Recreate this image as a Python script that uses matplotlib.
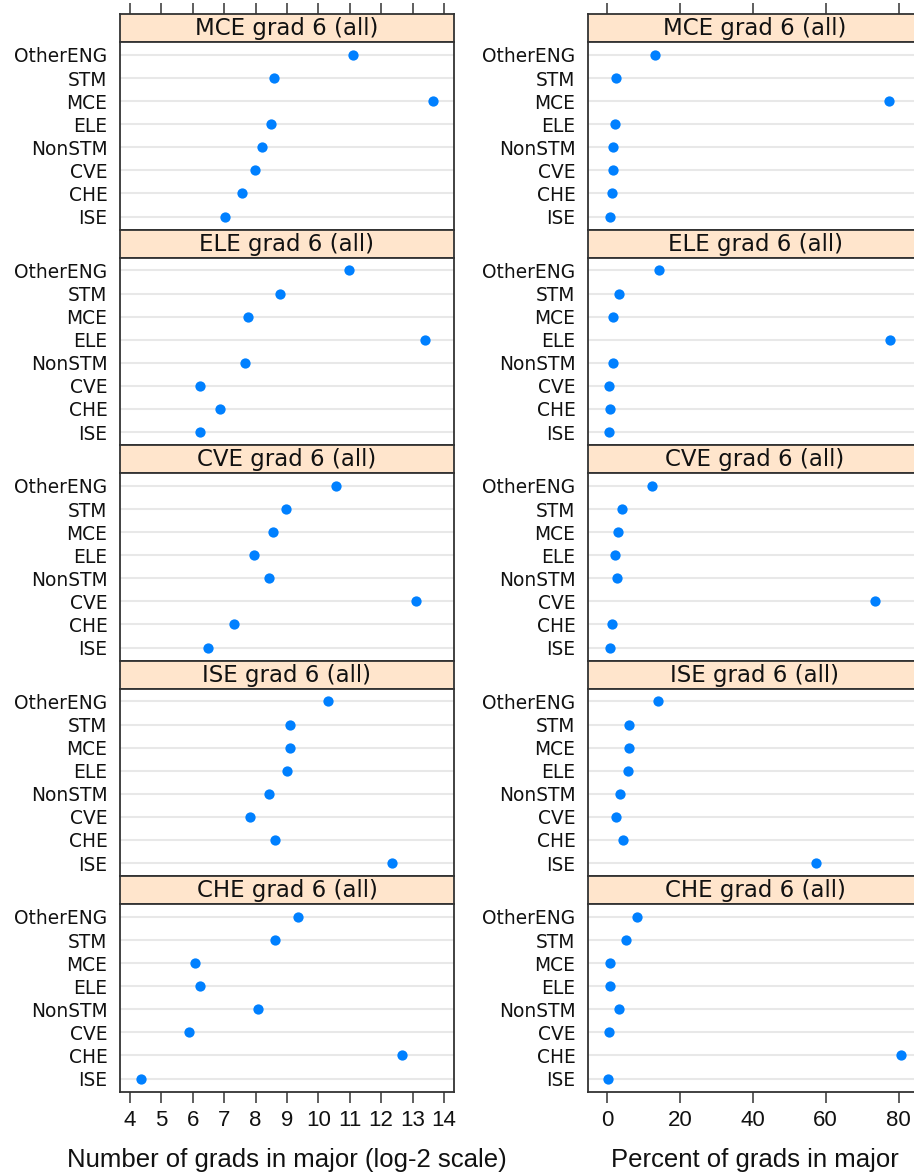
"""
Lattice-style dot plots: grads per major, by starting major.
Left column = log-2 counts, right column = percent of grads.
"""

import matplotlib
matplotlib.use("Agg")
import matplotlib.pyplot as plt

# ---------------------------------------------------------------
# Data (rows listed top -> bottom as drawn in each panel)
# ---------------------------------------------------------------
categories = ["OtherENG", "STM", "MCE", "ELE", "NonSTM", "CVE", "CHE", "ISE"]
panel_titles = ["MCE grad 6 (all)", "ELE grad 6 (all)", "CVE grad 6 (all)",
                "ISE grad 6 (all)", "CHE grad 6 (all)"]

mce_log2 = [11.09, 8.60, 13.66, 8.48, 8.19, 7.98, 7.58, 7.03]
ele_log2 = [10.96, 8.79, 7.75, 13.40, 7.67, 6.24, 6.88, 6.22]
cve_log2 = [10.55, 8.96, 8.56, 7.96, 8.43, 13.12, 7.31, 6.47]
ise_log2 = [10.31, 9.09, 9.10, 9.01, 8.43, 7.82, 8.62, 12.35]
che_log2 = [9.35, 8.62, 6.08, 6.23, 8.07, 5.89, 12.66, 4.34]

mce_pct = [13.2, 2.5, 77.3, 2.2, 1.7, 1.6, 1.3, 0.9]
ele_pct = [14.2, 3.3, 1.6, 77.6, 1.6, 0.5, 0.9, 0.5]
cve_pct = [12.3, 4.2, 3.1, 2.1, 2.8, 73.6, 1.4, 0.7]
ise_pct = [14.0, 6.0, 6.0, 5.9, 3.7, 2.6, 4.5, 57.2]
che_pct = [8.2, 5.1, 0.8, 0.9, 3.4, 0.6, 80.6, 0.3]

log2_ticks = [4, 5, 6, 7, 8, 9, 10, 11, 12, 13, 14]
pct_ticks = [0, 20, 40, 60, 80]

log2_panels = [mce_log2, ele_log2, cve_log2, ise_log2, che_log2]
pct_panels = [mce_pct, ele_pct, cve_pct, ise_pct, che_pct]

# ---------------------------------------------------------------
# Layout (pixel based, figure is 914 x 1175)
# ---------------------------------------------------------------
W, H = 914, 1175
DOT = "#0080ff"
STRIP = "#ffe5cc"
BORDER = "#333333"
GRID = "#e8e8e8"

TOP = 14
STRIP_H = 28
BODY_H = 187.5
STEP = STRIP_H + BODY_H
PANEL_W = 334
COLS = [
    dict(x0=120, data=log2_panels, xlim=(3.68, 14.32), ticks=log2_ticks,
         xlabel="Number of grads in major (log-2 scale)"),
    dict(x0=588, data=pct_panels, xlim=(-5.2, 86.4), ticks=pct_ticks,
         xlabel="Percent of grads in major"),
]

LABEL_FONT = ["DejaVu Sans"]
TICK_FONT = ["Liberation Sans Narrow", "Liberation Sans", "DejaVu Sans"]


def px_box(left, top, w, h):
    return [left / W, 1 - (top + h) / H, w / W, h / H]


fig = plt.figure(figsize=(W / 100, H / 100), dpi=100)

ypos = list(range(len(categories), 0, -1))  # 8 at top .. 1 at bottom

for col in COLS:
    for i, (title, vals) in enumerate(zip(panel_titles, col["data"])):
        top = TOP + i * STEP

        # strip with the panel title
        sax = fig.add_axes(px_box(col["x0"], top, PANEL_W, STRIP_H))
        sax.set_facecolor(STRIP)
        sax.set_xticks([])
        sax.set_yticks([])
        for sp in sax.spines.values():
            sp.set_color(BORDER)
            sp.set_linewidth(1.3)
        sax.text(0.5, 0.47, title, transform=sax.transAxes, ha="center",
                 va="center", fontsize=16.5, family=LABEL_FONT, color="#111111")

        # panel body
        ax = fig.add_axes(px_box(col["x0"], top + STRIP_H, PANEL_W, BODY_H))
        ax.plot(vals, ypos, "o", color=DOT, ms=7.4, mec="none", zorder=3)
        ax.set_xlim(*col["xlim"])
        ax.set_ylim(0.44, len(categories) + 0.56)

        ax.set_yticks(ypos)
        ax.set_yticklabels(categories, family=LABEL_FONT, fontsize=13.4,
                           color="#111111")
        ax.tick_params(axis="y", length=0, pad=9)
        ax.grid(axis="y", color=GRID, lw=1.5, zorder=0)
        ax.set_axisbelow(True)

        for sp in ax.spines.values():
            sp.set_color(BORDER)
            sp.set_linewidth(1.3)

        ax.set_xticks(col["ticks"])
        ax.tick_params(axis="x", direction="out", length=8, width=1.1,
                       color=BORDER, pad=5)
        if i == 0:
            # top row: tick marks above the strip, no labels
            ax.tick_params(axis="x", bottom=False, labelbottom=False)
            sax.set_xlim(*col["xlim"])
            sax.set_xticks(col["ticks"])
            sax.tick_params(axis="x", top=True, bottom=False, labelbottom=False,
                            direction="out", length=8, width=1.1, color=BORDER)
        elif i == len(panel_titles) - 1:
            ax.set_xticklabels([str(t) for t in col["ticks"]], family=TICK_FONT,
                               fontsize=16, color="#111111")
        else:
            ax.tick_params(axis="x", bottom=False, labelbottom=False)

    # axis label under the column
    cx = (col["x0"] + PANEL_W / 2) / W
    fig.text(cx, 1 - 1160 / H, col["xlabel"], ha="center", va="center",
             fontsize=18.5, family=["Liberation Sans", "DejaVu Sans"],
             color="#111111")

fig.savefig("out.png", dpi=100)
